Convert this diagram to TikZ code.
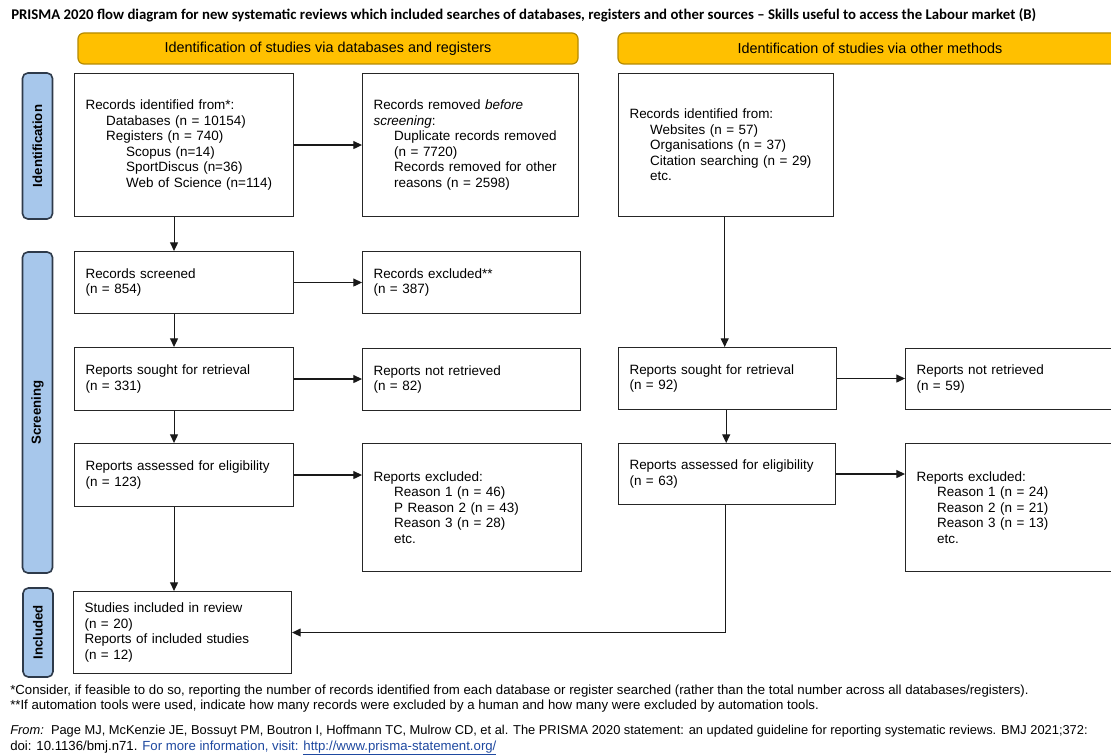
\documentclass[tikz,border=0pt]{standalone}
\usepackage{fontspec}
\setmainfont{Liberation Sans}
\newfontfamily\calib{Carlito}
\usetikzlibrary{arrows.meta,calc}
\definecolor{hdr}{HTML}{FFC000}
\definecolor{hdrb}{HTML}{B58A00}
\definecolor{sidef}{HTML}{A7C7EB}
\definecolor{sideb}{HTML}{2E3A4A}
\definecolor{linkc}{HTML}{1F49A0}
\newcommand\bxfont{\fontsize{10.1}{11.6}\selectfont}
\newcommand\ftfont{\fontsize{9.9}{11}\selectfont}
\newcommand\ia{\hspace*{15.5pt}}
\newcommand\ib{\hspace*{30.5pt}}
\begin{document}
\begin{tikzpicture}[x=0.75pt,y=-0.75pt,
  box/.style={draw=black!85, line width=0.8pt, fill=white, anchor=north west,
    align=left, inner xsep=8.25pt, inner ysep=0pt, font=\bxfont},
  side/.style={draw=sideb, line width=1.2pt, fill=sidef, rounded corners=4pt,
    rotate=90, minimum height=22.5pt, inner sep=0pt,
    font=\bfseries\fontsize{9.9}{11}\selectfont},
  hdrbox/.style={draw=hdrb, line width=0.9pt, fill=hdr, rounded corners=4.5pt,
    minimum height=23.25pt, inner sep=0pt, font=\fontsize{10.8}{13}\selectfont},
  arr/.style={draw=black!90, line width=0.8pt, -{Triangle[length=6.5pt,width=6pt]}},
  plain/.style={anchor=base west, inner sep=0pt}
]
\useasboundingbox (0,0) rectangle (1111,755);
\clip (0,0) rectangle (1111,755);
\fill[white] (0,0) rectangle (1111,755);

% title
\node[plain, font=\calib\bfseries\fontsize{11.1}{13}\selectfont] (title) at (11,20)
  {PRISMA 2020 flow diagram for new systematic reviews which included searches of databases, registers and other sources – Skills useful to access the Labour market (B)};

% headers
\node[hdrbox, minimum width=375pt] (hl) at (328,48.5) {Identification of studies via databases and registers};
\node[hdrbox, minimum width=378pt] (hr) at (870,48.5) {Identification of studies via other methods};

% side bars
\node[side, minimum width=109.5pt] (sid) at (37.5,146) {Identification};
\node[side, minimum width=240.75pt] (ssc) at (37.5,412.5) {Screening};
\node[side, minimum width=66.75pt] (sin) at (38,632.5) {Included};

% left column
\node[box, text width=147.75pt, minimum height=107.25pt] (recid) at (74,73)
  {Records identified from*:\\
   \ia Databases (n = 10154)\\
   \ia Registers (n = 740)\\
   \ib Scopus (n=14)\\
   \ib SportDiscus (n=36)\\
   \ib Web of Science (n=114)};
\node[box, text width=145.5pt, minimum height=107.25pt] (recrem) at (362,73)
  {Records removed \textit{before}\\
   \textit{screening}:\\
   \ia Duplicate records removed\\
   \ia (n = 7720)\\
   \ia Records removed for other\\
   \ia reasons (n = 2598)};
\node[box, text width=147.75pt, minimum height=46.5pt] (screened) at (74,251)
  {Records screened\\(n = 854)};
\node[box, text width=147pt, minimum height=46.5pt] (excl) at (362,251)
  {Records excluded**\\(n = 387)};
\node[box, text width=147.75pt, minimum height=47.25pt] (sought) at (74,347)
  {Reports sought for retrieval\\(n = 331)};
\node[box, text width=147pt, minimum height=46.5pt] (notret) at (362,348)
  {Reports not retrieved\\(n = 82)};
\node[box, text width=147.75pt, minimum height=47.25pt] (assessed) at (74,443)
  {Reports assessed for eligibility\\(n = 123)};
\node[box, text width=147.75pt, minimum height=96pt] (repexcl) at (362,443)
  {Reports excluded:\\
   \ia Reason 1 (n = 46)\\
   \ia P Reason 2 (n = 43)\\
   \ia Reason 3 (n = 28)\\
   \ia etc.};
\node[box, text width=147pt, minimum height=61.5pt] (included) at (73,591)
  {Studies included in review\\(n = 20)\\Reports of included studies\\(n = 12)};

% right column
\node[box, text width=144.75pt, minimum height=107.25pt] (othid) at (618,73)
  {Records identified from:\\
   \ia Websites (n = 57)\\
   \ia Organisations (n = 37)\\
   \ia Citation searching (n = 29)\\
   \ia etc.};
\node[box, text width=147pt, minimum height=46.5pt] (osought) at (618,347)
  {Reports sought for retrieval\\(n = 92)};
\node[box, text width=147pt, minimum height=45.75pt] (onotret) at (905,348)
  {Reports not retrieved\\(n = 59)};
\node[box, text width=146.25pt, minimum height=45.75pt] (oassessed) at (618,443)
  {Reports assessed for eligibility\\(n = 63)};
\node[box, text width=147pt, minimum height=96pt] (orepexcl) at (905,443)
  {Reports excluded:\\
   \ia Reason 1 (n = 24)\\
   \ia Reason 2 (n = 21)\\
   \ia Reason 3 (n = 13)\\
   \ia etc.};

% connectors left
\draw[arr] ([xshift=-7.5pt]recid.south) -- ([xshift=-7.5pt]recid.south |- screened.north);
\draw[arr] ([xshift=-7.5pt]screened.south) -- ([xshift=-7.5pt]screened.south |- sought.north);
\draw[arr] ([xshift=-7.5pt]sought.south) -- ([xshift=-7.5pt]sought.south |- assessed.north);
\draw[arr] ([xshift=-7.5pt]assessed.south) -- ([xshift=-7.5pt]assessed.south |- included.north);
\draw[arr] (recid.east) -- (recid.east -| recrem.west);
\draw[arr] (screened.east) -- (screened.east -| excl.west);
\draw[arr] (sought.east) -- (sought.east -| notret.west);
\draw[arr] (assessed.east) -- (assessed.east -| repexcl.west);
% connectors right
\draw[arr] ([xshift=-1pt]othid.south) -- ([xshift=-1pt]othid.south |- osought.north);
\draw[arr] ([xshift=-1pt]osought.south) -- ([xshift=-1pt]osought.south |- oassessed.north);
\draw[arr] (osought.east) -- (osought.east -| onotret.west);
\draw[arr] (oassessed.east) -- (oassessed.east -| orepexcl.west);
\draw[arr] ([xshift=-1pt]oassessed.south) |- (included.east);

% footnotes
\node[plain, font=\ftfont] (fn1) at (10,694)
  {*Consider, if feasible to do so, reporting the number of records identified from each database or register searched (rather than the total number across all databases/registers).};
\node[plain, font=\ftfont] (fn2) at (10,709)
  {**If automation tools were used, indicate how many records were excluded by a human and how many were excluded by automation tools.};
\node[plain, font=\fontsize{9.65}{11}\selectfont] (fn3) at (10,734)
  {\textit{From:}\ \ Page MJ, McKenzie JE, Bossuyt PM, Boutron I, Hoffmann TC, Mulrow CD, et al. The PRISMA 2020 statement: an updated guideline for reporting systematic reviews. BMJ 2021;372:};
\node[plain, font=\ftfont] (fn4) at (10,750)
  {doi: 10.1136/bmj.n71. {\color{linkc}For more information, visit: \underline{http://www.prisma-statement.org/}}};
\end{tikzpicture}
\end{document}
